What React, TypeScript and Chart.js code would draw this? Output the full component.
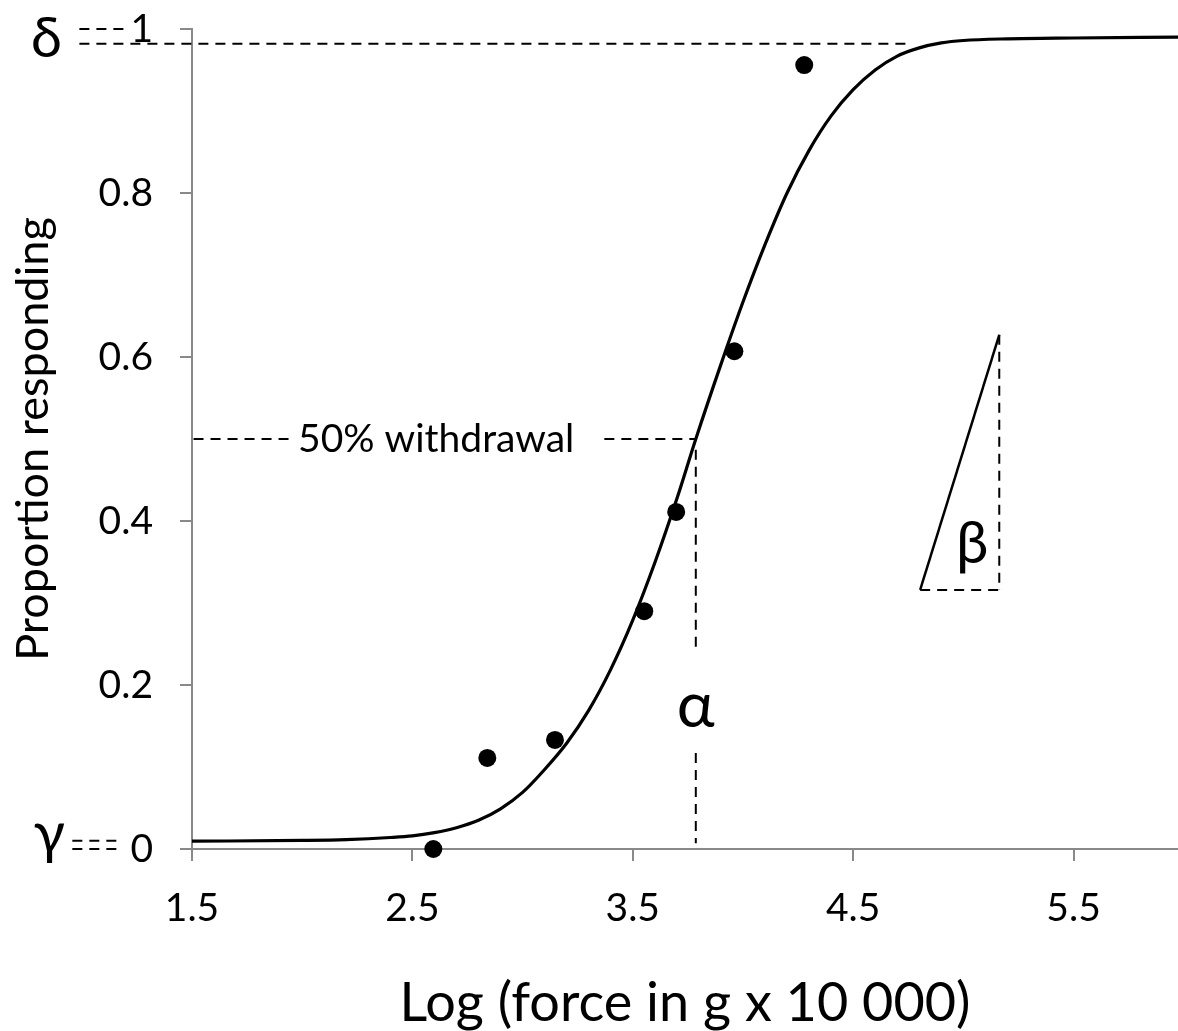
import React, { useEffect, useRef } from "react";
import { Chart, registerables } from "chart.js";

Chart.register(...registerables);

// ---- data ----
const xTickValues = [1.5, 2.5, 3.5, 4.5, 5.5];
const yTickValues = [0, 0.2, 0.4, 0.6, 0.8, 1];
const yTickLabels = ["0", "0.2", "0.4", "0.6", "0.8", "1"];
const xMin = 1.5;
const xMax = 5.974;

const obsX = [2.595, 2.84, 3.147, 3.552, 3.697, 3.961, 4.278];
const obsY = [0, 0.111, 0.133, 0.29, 0.411, 0.607, 0.956];

const curveX = [1.5, 2.0, 2.2, 2.4, 2.5, 2.6, 2.7, 2.8, 2.9, 3.0, 3.1, 3.2, 3.3, 3.4, 3.5, 3.6, 3.7, 3.786, 3.9, 4.0, 4.1, 4.2, 4.3, 4.4, 4.5, 4.6, 4.7, 4.8, 4.9, 5.0, 5.2, 5.5, 5.974];
const curveY = [0.0095, 0.0105, 0.0115, 0.014, 0.016, 0.02, 0.026, 0.035, 0.049, 0.069, 0.097, 0.129, 0.169, 0.219, 0.279, 0.349, 0.427, 0.5, 0.591, 0.667, 0.737, 0.8, 0.852, 0.894, 0.926, 0.95, 0.967, 0.977, 0.983, 0.986, 0.988, 0.989, 0.99];

// parameter markers (data units)
const deltaValue = 0.982;
const gammaValue = 0.01;
const alphaValue = 3.786;
const halfValue = 0.5;

// dashed guide segments [x1, y1, x2, y2] in data units
const dashedSegments: number[][] = [
  [0.989, 1.0, 1.206, 1.0],
  [0.989, deltaValue, 4.768, deltaValue],
  [0.957, gammaValue, 1.17, gammaValue],
  [0.957, 0, 1.17, 0],
  [1.507, halfValue, 1.941, halfValue],
  [3.371, halfValue, alphaValue, halfValue],
  [alphaValue, 0.487, alphaValue, 0.245],
  [alphaValue, 0.117, alphaValue, 0.007],
  [5.163, 0.627, 5.163, 0.316],
  [4.804, 0.316, 5.163, 0.316],
];
// solid slope segment
const slopeSegment = [4.804, 0.316, 5.163, 0.627];

const greekText = ["δ", "γ", "α", "β"];
const greekX = [0.839, 0.852, alphaValue, 5.04];
const greekY = [0.966, -0.005, 0.149, 0.349];

const noteText = "50% withdrawal";
const noteX = 2.608;
const noteY = halfValue;

const xTitle = "Log (force in g x 10 000)";
const yTitle = "Proportion responding";

const FONT = "Lato, 'Open Sans', sans-serif";

const annotationPlugin = {
  id: "annotations",
  afterDatasetsDraw(chart: any) {
    const { ctx } = chart;
    const xs = chart.scales.x;
    const ys = chart.scales.y;
    const px = (v: number) => xs.getPixelForValue(v);
    const py = (v: number) => ys.getPixelForValue(v);
    ctx.save();
    ctx.strokeStyle = "#000";
    ctx.lineWidth = 2;
    ctx.setLineDash([10, 7]);
    for (const s of dashedSegments) {
      ctx.beginPath();
      ctx.moveTo(px(s[0]), py(s[1]));
      ctx.lineTo(px(s[2]), py(s[3]));
      ctx.stroke();
    }
    ctx.setLineDash([]);
    ctx.lineWidth = 2.5;
    ctx.beginPath();
    ctx.moveTo(px(slopeSegment[0]), py(slopeSegment[1]));
    ctx.lineTo(px(slopeSegment[2]), py(slopeSegment[3]));
    ctx.stroke();

    ctx.fillStyle = "#000";
    ctx.font = `39px ${FONT}`;
    ctx.textAlign = "center";
    ctx.textBaseline = "middle";
    ctx.fillText(noteText, px(noteX), py(noteY));

    ctx.textBaseline = "alphabetic";
    const sizes = [56, 58, 64, 58];
    greekText.forEach((t, i) => {
      ctx.font = `${sizes[i]}px ${FONT}`;
      ctx.fillText(t, px(greekX[i]), py(greekY[i]));
    });
    ctx.restore();
  },
};

export default function App() {
  const canvasRef = useRef<HTMLCanvasElement | null>(null);

  useEffect(() => {
    if (!canvasRef.current) return;
    const axisColor = "#898989";
    const chart = new Chart(canvasRef.current, {
      type: "scatter",
      data: {
        datasets: [
          {
            label: "fit",
            data: curveX.map((x, i) => ({ x, y: curveY[i] })),
            showLine: true,
            borderColor: "#000",
            borderWidth: 3.2,
            pointRadius: 0,
            cubicInterpolationMode: "monotone",
            order: 2,
          },
          {
            label: "observed",
            data: obsX.map((x, i) => ({ x, y: obsY[i] })),
            showLine: false,
            backgroundColor: "#000",
            borderColor: "#000",
            pointRadius: 9,
            pointBorderWidth: 0,
            clip: false,
            order: 1,
          },
        ],
      },
      options: {
        responsive: false,
        animation: false,
        layout: { autoPadding: false, padding: { top: 29, right: 0, left: 0, bottom: 0 } },
        plugins: {
          legend: { display: false },
          tooltip: { enabled: false },
        },
        scales: {
          x: {
            type: "linear",
            min: xMin,
            max: xMax,
            afterBuildTicks: (scale: any) => {
              scale.ticks = xTickValues.map((v) => ({ value: v }));
            },
            afterFit: (scale: any) => {
              scale.height = 182;
              scale.paddingLeft = 0;
              scale.paddingRight = 0;
              scale.paddingTop = 0;
              scale.paddingBottom = 0;
            },
            ticks: {
              color: "#000",
              font: { family: FONT, size: 39 },
              padding: 24,
              maxRotation: 0,
              autoSkip: false,
              callback: (v: any) => String(v),
            },
            grid: {
              drawOnChartArea: false,
              drawTicks: true,
              tickLength: 12,
              color: axisColor,
              lineWidth: 2,
            },
            border: { color: axisColor, width: 2 },
            title: {
              display: true,
              text: xTitle,
              color: "#000",
              font: { family: FONT, size: 54, lineHeight: 1 },
              padding: { top: 3, bottom: 0 },
            },
          },
          y: {
            type: "linear",
            min: 0,
            max: 1,
            afterBuildTicks: (scale: any) => {
              scale.ticks = yTickValues.map((v) => ({ value: v }));
            },
            afterFit: (scale: any) => {
              scale.width = 192;
              scale.paddingLeft = 0;
              scale.paddingRight = 0;
              scale.paddingTop = 0;
              scale.paddingBottom = 0;
            },
            ticks: {
              color: "#000",
              font: { family: FONT, size: 39 },
              padding: 27,
              autoSkip: false,
              callback: (_v: any, i: number) => yTickLabels[i],
            },
            grid: {
              drawOnChartArea: false,
              drawTicks: true,
              tickLength: 12,
              color: axisColor,
              lineWidth: 2,
            },
            border: { color: axisColor, width: 2 },
            title: {
              display: true,
              text: yTitle,
              color: "#000",
              font: { family: FONT, size: 45, lineHeight: 1 },
              padding: { top: 11, bottom: 0 },
            },
          },
        },
      },
      plugins: [annotationPlugin],
    } as any);
    return () => chart.destroy();
  }, []);

  return (
    <div style={{ position: "fixed", left: 0, top: 0, width: 1178, height: 1031, background: "#fff" }}>
      <canvas ref={canvasRef} width={1178} height={1031} style={{ display: "block" }} />
    </div>
  );
}
